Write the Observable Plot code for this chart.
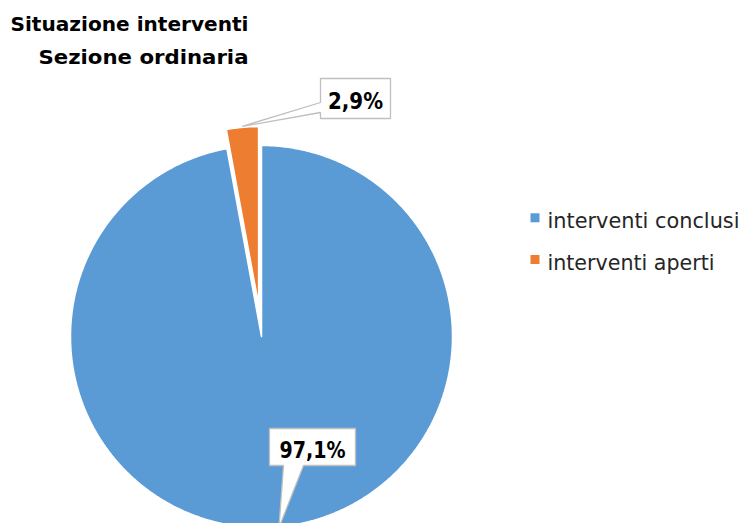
<!DOCTYPE html>
<html><head><meta charset="utf-8">
<script src="https://cdn.jsdelivr.net/npm/d3@7"></script>
<script src="https://cdn.jsdelivr.net/npm/@observablehq/plot@0.6"></script>
<style>html,body{margin:0;padding:0;background:#fff;overflow:hidden}#chart svg{display:block}</style>
</head><body><div id="chart"></div>
<script>
// ---- data ----
const categories = ["interventi conclusi", "interventi aperti"];
const values = [97.1, 2.9];
const labels = ["97,1%", "2,9%"];
const colors = ["#5B9BD5", "#ED7D31"];
const titleLines = ["Situazione interventi", "Sezione ordinaria"];

// ---- layout (pixels) ----
const W = 743, H = 523;
const pie = {cx: 261, cy: 336, r: 191};
const explode = [{d: 0, r: 191}, {d: 32, r: 178}];
const titleLayout = [{x: 10, y: 30.7, w: 238}, {x: 38, y: 63.5, w: 210}];
const legendLayout = {sx: 530.5, size: 9, tx: 547, y0: 213.3, step: 41.7, base: 14, w: [192, 167]};
const calloutLayout = [
  {box: [269, 428, 355, 465], side: "bottom", base: [283, 303], ty: 457, tw: 66},
  {box: [320, 78, 390, 118], side: "left", base: [102, 112], ty: 108.5, tw: 55}
];
const FONT = "'DejaVu Sans', sans-serif";

// ---- pie geometry from values ----
const total = d3.sum(values);
let acc = 0;
const slices = values.map((v, i) => {
  const a0 = acc / total * 2 * Math.PI; acc += v;
  const a1 = acc / total * 2 * Math.PI;
  const e = explode[i], mid = (a0 + a1) / 2;
  return {i, name: categories[i], a0, a1, mid, r: e.r,
          ox: pie.cx + e.d * Math.sin(mid), oy: pie.cy - e.d * Math.cos(mid)};
});
const slicePts = [];
slices.forEach(s => {
  slicePts.push({name: s.name, x: s.ox, y: s.oy});
  const n = Math.max(4, Math.ceil((s.a1 - s.a0) / (Math.PI / 360)));
  for (let k = 0; k <= n; k++) {
    const a = s.a0 + (s.a1 - s.a0) * k / n;
    slicePts.push({name: s.name, x: s.ox + s.r * Math.sin(a), y: s.oy - s.r * Math.cos(a)});
  }
  slicePts.push({name: s.name, x: s.ox, y: s.oy});
});

// ---- callouts ----
const calloutPts = [], calloutText = [];
slices.forEach(s => {
  const L = calloutLayout[s.i];
  const ax = s.ox + (s.r + 1) * Math.sin(s.mid), ay = s.oy - (s.r + 1) * Math.cos(s.mid);
  const [x0, y0, x1, y1] = L.box;
  let poly;
  if (L.side === "bottom") {
    poly = [[x0, y0], [x1, y0], [x1, y1], [L.base[1], y1], [ax, ay], [L.base[0], y1], [x0, y1], [x0, y0]];
  } else {
    poly = [[x0, y0], [x1, y0], [x1, y1], [x0, y1], [x0, L.base[1]], [ax, ay], [x0, L.base[0]], [x0, y0]];
  }
  poly.forEach(([x, y]) => calloutPts.push({id: s.name, x, y}));
  calloutText.push({label: labels[s.i], x: (x0 + x1) / 2, y: L.ty});
});

const titleData = titleLines.map((t, i) => ({t, x: titleLayout[i].x, y: titleLayout[i].y}));
const legendData = categories.map((c, i) => ({
  name: c,
  y1: legendLayout.y0 + i * legendLayout.step,
  y2: legendLayout.y0 + i * legendLayout.step + legendLayout.size,
  ty: legendLayout.y0 + i * legendLayout.step + legendLayout.base
}));

const svg = Plot.plot({
  width: W, height: H, margin: 0,
  x: {domain: [0, W], range: [0, W], axis: null},
  y: {domain: [0, H], range: [0, H], axis: null},
  color: {domain: categories, range: colors},
  style: {fontFamily: FONT, background: "#fff", overflow: "hidden"},
  marks: [
    Plot.line(slicePts, {x: "x", y: "y", z: "name", fill: "name", stroke: "#fff", strokeWidth: 1.5, curve: "linear", strokeLinejoin: "miter"}),
    Plot.line(calloutPts, {x: "x", y: "y", z: "id", fill: "#fff", stroke: "#BFBFBF", strokeWidth: 1.3, curve: "linear", strokeLinejoin: "miter"}),
    Plot.text(calloutText, {x: "x", y: "y", text: "label", lineAnchor: "bottom", fontSize: 23, fontWeight: "bold", fill: "#000", className: "lbl"}),
    Plot.text(titleData, {x: "x", y: "y", text: "t", textAnchor: "start", lineAnchor: "bottom", fontSize: 19.5, fontWeight: "bold", fill: "#000", className: "ttl"}),
    Plot.rect(legendData, {x1: () => legendLayout.sx, x2: () => legendLayout.sx + legendLayout.size, y1: "y1", y2: "y2", fill: "name"}),
    Plot.text(legendData, {x: () => legendLayout.tx, y: "ty", text: "name", textAnchor: "start", lineAnchor: "bottom", fontSize: 20.7, fill: "#262626", className: "leg"})
  ]
});
document.getElementById("chart").appendChild(svg);

// fit text widths to the reference
function fit(cls, widths) {
  d3.select(svg).selectAll(`.${cls} text`).each(function(d, i) {
    this.setAttribute("textLength", widths[i]);
    this.setAttribute("lengthAdjust", "spacingAndGlyphs");
  });
}
fit("lbl", calloutLayout.map(c => c.tw));
fit("ttl", titleLayout.map(t => t.w));
fit("leg", legendLayout.w);
</script>
</body></html>
